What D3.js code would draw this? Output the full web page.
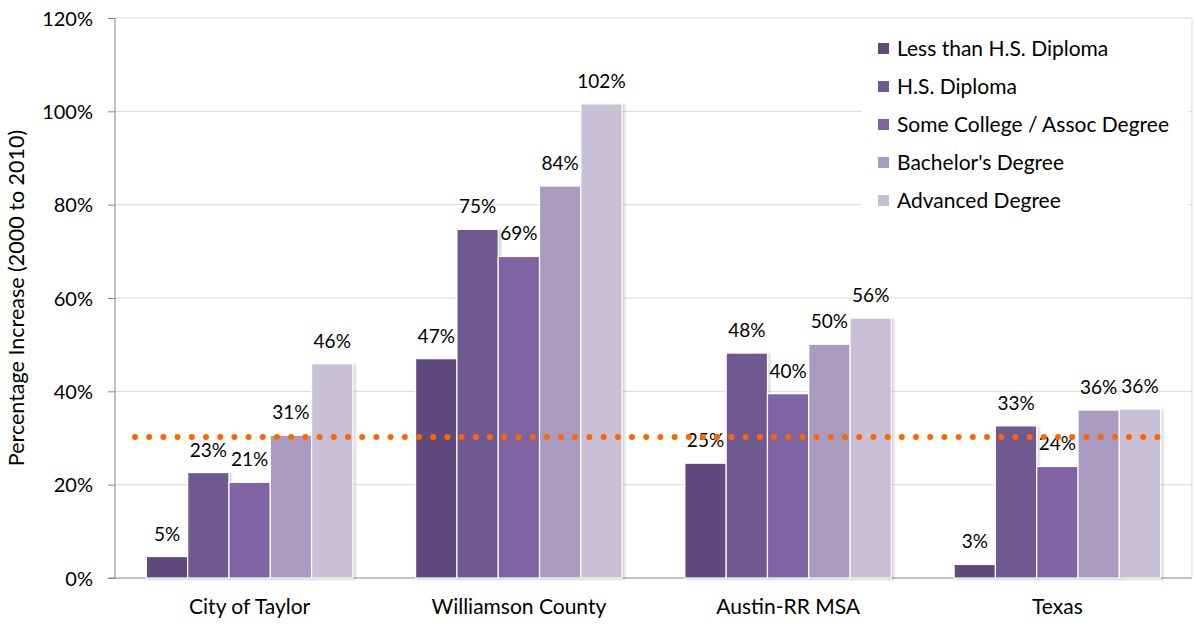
<!DOCTYPE html>
<html>
<head>
<meta charset="utf-8">
<script src="https://cdn.jsdelivr.net/npm/d3@7"></script>
<style>
  body { margin: 0; background: #fff; }
  text { font-family: Lato, "Open Sans", sans-serif; fill: #000; }
</style>
</head>
<body>
<div id="my_dataviz"></div>
<script>
// Data
var categories = ["City of Taylor", "Williamson County", "Austin-RR MSA", "Texas"];
var seriesNames = ["Less than H.S. Diploma", "H.S. Diploma", "Some College / Assoc Degree", "Bachelor's Degree", "Advanced Degree"];
var lessThanHS = [4.6, 47.0, 24.6, 2.9];
var hsDiploma = [22.6, 74.7, 48.2, 32.6];
var someCollege = [20.5, 68.9, 39.5, 23.9];
var bachelors = [30.6, 84.0, 50.1, 36.0];
var advanced = [45.9, 101.6, 55.7, 36.2];
var yTicks = [0, 20, 40, 60, 80, 100, 120];
var avgLine = 30.2; // orange dotted line

var seriesValues = [lessThanHS, hsDiploma, someCollege, bachelors, advanced];
var colors = ["#604a7b", "#705891", "#8064a2", "#a99bbf", "#c8c0d7"];

var margin = {top: 18, right: 2, bottom: 46, left: 115},
    width = 1194 - margin.left - margin.right,
    height = 624 - margin.top - margin.bottom;

var svg = d3.select("#my_dataviz")
  .append("svg")
    .attr("width", 1194)
    .attr("height", 624)
  .append("g")
    .attr("transform", "translate(" + margin.left + "," + margin.top + ")");

// soft shadow under bars
var defs = svg.append("defs");
var f = defs.append("filter").attr("id", "shadow").attr("x", "-10%").attr("y", "-10%").attr("width", "130%").attr("height", "120%");
f.append("feDropShadow").attr("dx", 2).attr("dy", 1).attr("stdDeviation", 1.2).attr("flood-color", "#000").attr("flood-opacity", 0.18);

// scales
var x0 = d3.scaleBand().domain(categories).range([0, width]).paddingInner(0.233).paddingOuter(0.1165);
var x1 = d3.scaleBand().domain(d3.range(seriesNames.length)).range([0, x0.bandwidth()]);
var y = d3.scaleLinear().domain([0, 120]).range([height, 0]);

// gridlines
svg.append("g")
  .selectAll("line")
  .data(yTicks.filter(function (d) { return d > 0; }))
  .enter()
  .append("line")
    .attr("x1", 0).attr("x2", width)
    .attr("y1", function (d) { return y(d); })
    .attr("y2", function (d) { return y(d); })
    .style("stroke", "#d9d9d9")
    .style("stroke-width", 1);

// right border of plot area
svg.append("line")
  .attr("x1", width).attr("x2", width)
  .attr("y1", 0).attr("y2", height)
  .style("stroke", "#d9d9d9");

// y axis
var yAxis = svg.append("g")
  .call(d3.axisLeft(y).tickValues(yTicks).tickFormat(function (d) { return d + "%"; }).tickSize(7).tickPadding(15));
yAxis.select(".domain").style("stroke", "#868686").attr("d", "M0,0V" + height);
yAxis.selectAll(".tick line").style("stroke", "#868686");
yAxis.selectAll("text").style("font-size", "20px").attr("dy", "0.36em");

// x axis
var xAxis = svg.append("g")
  .attr("transform", "translate(0," + height + ")")
  .call(d3.axisBottom(x0).tickSize(0).tickPadding(21));
xAxis.select(".domain").style("stroke", "#868686").attr("d", "M-7,0H" + width);
xAxis.selectAll("text").style("font-size", "21px");

// axis title
svg.append("text")
  .attr("transform", "rotate(-90)")
  .attr("x", -280)
  .attr("y", -margin.left + 24)
  .attr("text-anchor", "middle")
  .style("font-size", "21.5px")
  .text("Percentage Increase (2000 to 2010)");

// bars
var groups = svg.append("g")
  .selectAll("g")
  .data(categories)
  .enter()
  .append("g")
    .attr("transform", function (d) { return "translate(" + x0(d) + ",0)"; });

var barData = function (c, ci) {
  return seriesValues.map(function (vals, si) { return {s: si, v: vals[ci]}; });
};

groups.selectAll("rect")
  .data(function (c, ci) { return barData(c, ci); })
  .enter()
  .append("rect")
    .attr("x", function (d) { return x1(d.s); })
    .attr("y", function (d) { return y(d.v); })
    .attr("width", x1.bandwidth())
    .attr("height", function (d) { return height - y(d.v); })
    .style("fill", function (d) { return colors[d.s]; })
    .style("stroke", "#fff")
    .style("stroke-width", 1.2)
    .attr("filter", "url(#shadow)");

// dotted orange line
svg.append("line")
  .attr("x1", 20).attr("x2", width - 34)
  .attr("y1", y(avgLine)).attr("y2", y(avgLine))
  .style("stroke", "#ff6600")
  .style("stroke-width", 6)
  .style("stroke-linecap", "round")
  .style("stroke-dasharray", "0 14.2");

// data labels
groups.selectAll("text.lbl")
  .data(function (c, ci) { return barData(c, ci); })
  .enter()
  .append("text")
    .attr("class", "lbl")
    .attr("x", function (d) { return x1(d.s) + x1.bandwidth() / 2; })
    .attr("y", function (d) { return y(d.v) - 16; })
    .attr("text-anchor", "middle")
    .style("font-size", "19px")
    .text(function (d) { return Math.round(d.v) + "%"; });

// legend
var legend = svg.append("g")
  .attr("transform", "translate(" + (width - 330) + ",7)");

legend.append("rect")
  .attr("width", 326)
  .attr("height", 197)
  .style("fill", "#fff");

var items = legend.selectAll("g.item")
  .data(seriesNames)
  .enter()
  .append("g")
    .attr("class", "item")
    .attr("transform", function (d, i) { return "translate(16," + (24 + i * 38) + ")"; });

items.append("rect")
  .attr("y", -6)
  .attr("width", 11)
  .attr("height", 11)
  .style("fill", function (d, i) { return colors[i]; });

items.append("text")
  .attr("x", 19)
  .attr("dy", "0.35em")
  .style("font-size", "21px")
  .text(function (d) { return d; });
</script>
</body>
</html>
